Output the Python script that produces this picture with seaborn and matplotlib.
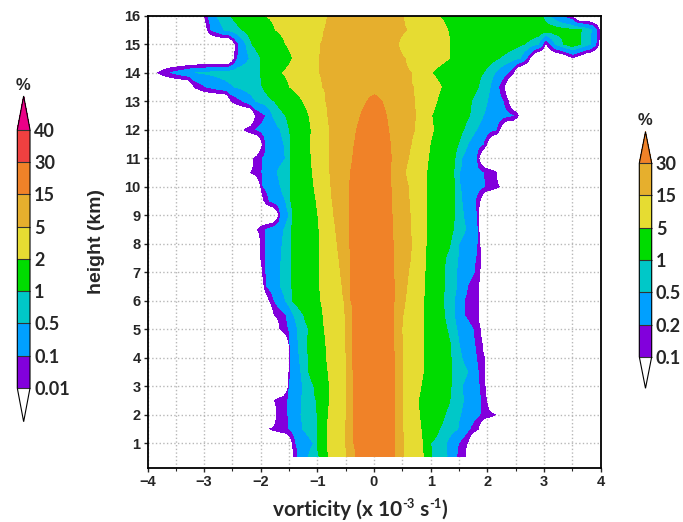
import numpy as np
import matplotlib
matplotlib.use("Agg")
import matplotlib.pyplot as plt
import seaborn as sns
from matplotlib.colors import ListedColormap, BoundaryNorm
import matplotlib.cm as cm
from matplotlib.ticker import MultipleLocator, NullLocator

sns.set_theme(style="ticks")
plt.rcParams['font.family'] = ['Liberation Sans', 'DejaVu Sans']

# ---------------- data ----------------
heights = [0.55, 1.0, 1.5, 2.0, 2.5, 3.0, 3.5, 4.0, 4.5, 5.0, 5.5, 6.0, 6.5, 7.0, 7.5, 8.0,
           8.5, 9.0, 9.5, 10.0, 10.5, 11.0, 11.5, 12.0, 12.5, 13.0, 13.5, 14.0, 14.5, 15.0, 15.5, 16.0]

# frequency levels (%) of the main chart
levels_pct = [0.1, 0.2, 0.5, 1, 5, 15, 30]

# left-side vorticity where frequency crosses each level (per height)
left_0p1 = [-1.42, -1.44, -1.84, -1.72, -1.76, -1.51, -1.50, -1.50, -1.50, -1.66, -1.76, -1.85, -1.94, -1.97, -2.00, -2.00,
            -2.06, -1.68, -1.94, -2.00, -2.18, -2.12, -1.97, -2.29, -2.09, -2.52, -3.18, -3.82, -2.46, -2.45, -2.94, -2.99]
left_0p2 = [-1.35, -1.38, -1.50, -1.52, -1.53, -1.50, -1.48, -1.47, -1.49, -1.51, -1.55, -1.76, -1.90, -1.91, -1.91, -1.91,
            -1.91, -1.65, -1.85, -1.96, -1.98, -1.97, -1.91, -2.09, -1.91, -2.32, -2.97, -3.59, -2.41, -2.39, -2.88, -2.94]
left_0p5 = [-1.16, -1.07, -1.26, -1.29, -1.28, -1.26, -1.29, -1.32, -1.34, -1.35, -1.42, -1.56, -1.65, -1.65, -1.64, -1.62,
            -1.59, -1.50, -1.56, -1.65, -1.71, -1.56, -1.59, -1.65, -1.79, -2.09, -2.47, -3.15, -2.20, -2.26, -2.65, -2.79]
left_1 = [-0.97, -1.00, -1.00, -1.00, -1.02, -1.06, -1.15, -1.16, -1.18, -1.15, -1.24, -1.44, -1.45, -1.46, -1.46, -1.46,
          -1.46, -1.44, -1.47, -1.47, -1.47, -1.47, -1.47, -1.49, -1.56, -1.76, -1.97, -2.00, -2.00, -2.15, -2.32, -2.53]
left_5 = [-0.81, -0.82, -0.82, -0.81, -0.79, -0.79, -0.81, -0.84, -0.85, -0.88, -0.90, -0.94, -0.96, -0.97, -0.97, -0.97,
          -0.97, -0.99, -1.02, -1.06, -1.09, -1.11, -1.12, -1.11, -1.15, -1.26, -1.49, -1.62, -1.44, -1.56, -1.74, -1.92]
left_15 = [-0.48, -0.50, -0.50, -0.49, -0.48, -0.48, -0.48, -0.49, -0.50, -0.51, -0.51, -0.53, -0.56, -0.59, -0.62, -0.65,
           -0.68, -0.71, -0.74, -0.76, -0.78, -0.78, -0.79, -0.79, -0.82, -0.85, -0.91, -0.97, -0.97, -0.94, -0.88, -0.82]
left_30 = [-0.33, -0.36, -0.37, -0.37, -0.37, -0.37, -0.37, -0.38, -0.38, -0.38, -0.38, -0.41, -0.41, -0.42, -0.42, -0.43,
           -0.44, -0.44, -0.44, -0.43, -0.42, -0.38, -0.35, -0.31, -0.24, -0.12, np.nan, np.nan, np.nan, np.nan, np.nan, np.nan]

# right-side vorticity where frequency crosses each level (per height)
right_30 = [0.37, 0.37, 0.37, 0.37, 0.37, 0.37, 0.36, 0.36, 0.35, 0.35, 0.34, 0.36, 0.36, 0.35, 0.35, 0.34,
            0.33, 0.32, 0.31, 0.30, 0.29, 0.31, 0.29, 0.26, 0.22, 0.14, np.nan, np.nan, np.nan, np.nan, np.nan, np.nan]
right_15 = [0.52, 0.52, 0.51, 0.51, 0.51, 0.51, 0.51, 0.50, 0.50, 0.49, 0.51, 0.55, 0.58, 0.61, 0.65, 0.66,
            0.65, 0.64, 0.62, 0.61, 0.55, 0.61, 0.66, 0.72, 0.73, 0.72, 0.69, 0.66, 0.55, 0.43, 0.58, 0.52]
right_5 = [0.87, 0.86, 0.83, 0.80, 0.78, 0.83, 0.87, 0.87, 0.87, 0.87, 0.87, 0.88, 0.89, 0.90, 0.91, 0.92,
           0.92, 0.93, 0.93, 0.93, 0.93, 0.96, 0.99, 1.05, 1.02, 1.11, 1.19, 1.02, 1.34, 1.34, 1.30, 1.14]
right_1 = [1.02, 0.99, 1.15, 1.25, 1.34, 1.36, 1.37, 1.36, 1.35, 1.29, 1.24, 1.23, 1.24, 1.24, 1.26, 1.35,
           1.40, 1.42, 1.43, 1.42, 1.41, 1.43, 1.49, 1.58, 1.69, 1.72, 1.84, 1.93, 2.20, 2.66, 3.66, 2.97]
right_0p5 = [1.29, 1.28, 1.48, 1.53, 1.58, 1.56, 1.66, 1.55, 1.50, 1.46, 1.42, 1.42, 1.46, 1.46, 1.48, 1.50,
             1.62, 1.58, 1.55, 1.52, 1.51, 1.55, 1.66, 1.81, 1.93, 2.00, 2.05, 2.14, 2.58, 2.90, 3.84, 3.10]
right_0p2 = [1.46, 1.49, 1.69, 1.87, 1.89, 1.86, 1.84, 1.81, 1.78, 1.75, 1.59, 1.59, 1.65, 1.77, 1.80, 1.82,
             1.83, 1.81, 1.79, 1.96, 1.93, 1.81, 1.93, 2.16, 2.46, 2.28, 2.20, 2.37, 2.69, 2.98, 3.93, 3.30]
right_0p1 = [1.61, 1.65, 1.84, 2.14, 1.99, 1.96, 1.96, 1.95, 1.91, 1.88, 1.84, 1.84, 1.85, 1.87, 1.88, 1.87,
             1.85, 1.84, 1.87, 2.22, 2.16, 1.85, 1.99, 2.22, 2.55, 2.37, 2.30, 2.46, 2.75, 3.02, 3.98, 3.50]

# peak frequency (%) along each height
peak_pct = [40] * 26 + [22] * 6

# detached tongue of data in the upper right corner
tongue_heights = [14.5, 15.0]
tongue_x = [[3.30, 3.52, 3.75],
            [3.05, 3.20, 3.35, 3.50, 3.65, 3.82, 3.92, 3.97]]
tongue_pct = [[0.03, 0.085, 0.03],
              [0.1, 0.5, 1.0, 1.6, 1.0, 0.5, 0.2, 0.1]]

# colour bars
main_colors = ['#8200dc', '#00a0ff', '#00c8c8', '#00dc00', '#e6dc32', '#e6af2d', '#f08228']
left_bar_bounds = [0.01, 0.1, 0.5, 1, 2, 5, 15, 30, 40]
left_bar_labels = ['0.01', '0.1', '0.5', '1', '2', '5', '15', '30', '40']
left_bar_colors = ['#8200dc', '#00a0ff', '#00c8c8', '#00dc00', '#e6dc32', '#e6af2d', '#f08228', '#f04040']
left_bar_over = '#eb0087'
right_bar_bounds = [0.1, 0.2, 0.5, 1, 5, 15, 30]
right_bar_labels = ['0.1', '0.2', '0.5', '1', '5', '15', '30']

# ---------------- build gridded field ----------------
x = np.linspace(-4, 4, 1601)
low = -1.6
lefts = [left_0p1, left_0p2, left_0p5, left_1, left_5, left_15, left_30]
rights = [right_0p1, right_0p2, right_0p5, right_1, right_5, right_15, right_30]
loglev = np.log10(levels_pct)
Z = np.full((len(heights), x.size), low)
for i, h in enumerate(heights):
    kx, ky = [lefts[0][i] - 0.1], [low]
    for k in range(7):
        if not np.isnan(lefts[k][i]):
            kx.append(lefts[k][i]); ky.append(loglev[k])
    if not np.isnan(left_30[i]):
        c = 0.5 * (left_30[i] + right_30[i])
    else:
        c = 0.5 * (left_15[i] + right_15[i])
    kx.append(c); ky.append(np.log10(peak_pct[i]))
    for k in range(6, -1, -1):
        if not np.isnan(rights[k][i]):
            kx.append(rights[k][i]); ky.append(loglev[k])
    kx.append(rights[0][i] + 0.1); ky.append(low)
    kx = np.array(kx)
    for j in range(1, len(kx)):
        if kx[j] <= kx[j - 1]:
            kx[j] = kx[j - 1] + 0.005
    Z[i] = np.interp(x, kx, ky, left=low, right=low)
    if h in tongue_heights:
        t = tongue_heights.index(h)
        tx = np.array(tongue_x[t]); tv = np.log10(tongue_pct[t])
        tx = np.concatenate([[tx[0] - 0.15], tx, [tx[-1] + 0.15]])
        tv = np.concatenate([[low], tv, [low]])
        Z[i] = np.maximum(Z[i], np.interp(x, tx, tv, left=low, right=low))

# ---------------- figure ----------------
W, H = 683, 522
fig = plt.figure(figsize=(W / 100, H / 100), dpi=100)
fig.patch.set_facecolor('white')
ax = fig.add_axes([147.5 / W, 1 - 468.3 / H, 453 / W, 452.6 / H])
ax.set_facecolor('white')
ax.set_axisbelow(True)

ax.contourf(x, heights, Z, levels=list(loglev) + [3.0], colors=main_colors, zorder=2)

ax.set_xlim(-4, 4)
ax.set_ylim(0.12, 16)
ax.xaxis.set_major_locator(MultipleLocator(1))
ax.xaxis.set_minor_locator(MultipleLocator(0.5))
ax.yaxis.set_major_locator(MultipleLocator(1))
ax.yaxis.set_minor_locator(NullLocator())
ax.grid(True, which='major', ls=':', color='#b8b8b8', lw=1.0)
ax.grid(True, which='minor', axis='x', ls=':', color='#b8b8b8', lw=1.0)
ax.tick_params(which='major', direction='out', length=3, width=1, labelsize=10.5, pad=2)
ax.tick_params(which='minor', direction='out', length=2, width=0.8)
for lab in ax.get_xticklabels() + ax.get_yticklabels():
    lab.set_fontweight('bold')
for sp in ax.spines.values():
    sp.set_color('black'); sp.set_linewidth(1.3)

ax.set_ylabel('height (km)', fontsize=14, fontweight='bold')
ax.yaxis.set_label_coords((105 - 147.5) / 453, 0.5)

# x label built from pieces so that the superscripts keep plain hyphens
renderer = fig.canvas.get_renderer()
xl_pieces = [('vorticity (x 10', False), ('-3', True), (' s', False), ('-1', True), (')', False)]
xl_size = 15
xl_base = H - 516
texts, widths = [], []
for s, sup in xl_pieces:
    t = fig.text(0, 0, s, fontsize=xl_size * (0.62 if sup else 1.0), fontweight='bold',
                 family=['Lato', 'DejaVu Sans'], ha='left', va='baseline', transform=None)
    texts.append(t)
    widths.append(t.get_window_extent(renderer).width)
x_start = 360 - sum(widths) / 2
for (s, sup), t, w in zip(xl_pieces, texts, widths):
    t.set_position((x_start, xl_base + (7.5 if sup else 0)))
    x_start += w

# left colour bar
cmap_l = ListedColormap(left_bar_colors)
cmap_l.set_over(left_bar_over); cmap_l.set_under('white')
norm_l = BoundaryNorm(left_bar_bounds, cmap_l.N)
cax_l = fig.add_axes([17.3 / W, 1 - 421.7 / H, 12.7 / W, 325.7 / H])
cb_l = fig.colorbar(cm.ScalarMappable(norm=norm_l, cmap=cmap_l), cax=cax_l, extend='both',
                    extendfrac=0.13, drawedges=True, ticks=left_bar_bounds)
cb_l.ax.set_yticklabels(left_bar_labels)

# right colour bar
cmap_r = ListedColormap(main_colors[:-1])
cmap_r.set_over(main_colors[-1]); cmap_r.set_under('white')
norm_r = BoundaryNorm(right_bar_bounds, cmap_r.N)
cax_r = fig.add_axes([639.3 / W, 1 - 388.3 / H, 12.4 / W, 256.6 / H])
cb_r = fig.colorbar(cm.ScalarMappable(norm=norm_r, cmap=cmap_r), cax=cax_r, extend='both',
                    extendfrac=0.163, drawedges=True, ticks=right_bar_bounds)
cb_r.ax.set_yticklabels(right_bar_labels)

for cb in (cb_l, cb_r):
    cb.outline.set_linewidth(0.8)
    cb.outline.set_edgecolor('black')
    cb.dividers.set_linewidth(0.8)
    cb.dividers.set_color('#333333')
    cb.ax.tick_params(length=0, pad=3)
    for lab in cb.ax.get_yticklabels():
        lab.set_fontweight('bold'); lab.set_fontsize(13); lab.set_family(['Lato', 'DejaVu Sans'])

fig.text(22.7 / W, 1 - 85 / H, '%', ha='center', va='center', fontsize=12, fontweight='bold')
fig.text(645.5 / W, 1 - 120.7 / H, '%', ha='center', va='center', fontsize=12, fontweight='bold')

fig.savefig('out.png', dpi=100, facecolor='white')
